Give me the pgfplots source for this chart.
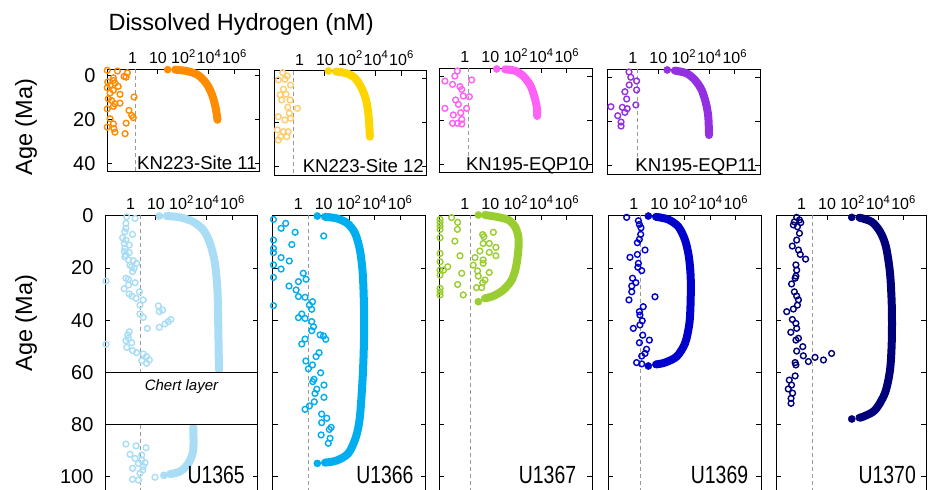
\documentclass[border=0pt]{standalone}
\usepackage{fontspec}
\setmainfont{Liberation Sans}
\usepackage{pgfplots}
\pgfplotsset{compat=1.18}
\definecolor{cA}{HTML}{FF8C00}
\definecolor{cB}{HTML}{FFD500}
\definecolor{cBo}{HTML}{FFCC6E}
\definecolor{cC}{HTML}{FF60F5}
\definecolor{cD}{HTML}{9330E0}
\definecolor{cE}{HTML}{A8DDF5}
\definecolor{cF}{HTML}{00AEEF}
\definecolor{cG}{HTML}{9ACD32}
\definecolor{cH}{HTML}{0000CD}
\definecolor{cI}{HTML}{00007A}
\tikzset{
  mydash/.style={gray!80, line width=0.8pt, dash pattern=on 4pt off 3pt},
  toplab/.style={anchor=base east, inner sep=0pt, font=\fontsize{18.6}{19}\selectfont, xshift=-3pt, yshift=2.5pt},
  botlab/.style={anchor=base east, inner sep=0pt, font=\fontsize{19.4}{20}\selectfont, yscale=1.28},
}
\pgfplotsset{
  panel/.style={
    scale only axis, width=153pt, xmin=0, xmax=6, y dir=reverse, clip=false,
    anchor=north west,
    axis line style={line width=1pt},
    tick style={line width=1pt, black},
    major tick length=5pt,
    xtick pos=right, xticklabel pos=right,
    xtick={2,3,4,5},
    xticklabels={10,10\textsuperscript{2},10\textsuperscript{4},10\textsuperscript{6}},
    extra x ticks={1}, extra x tick labels={1},
    extra x tick style={major tick length=0pt},
    xticklabel style={font=\fontsize{16}{16}\selectfont, yshift=2pt},
    yticklabel style={font=\fontsize{20}{20}\selectfont, xshift=-8pt},
    /pgf/number format/assume math mode=true,
  },
  noy/.style={yticklabels={}},
  myopen/.style={only marks, mark=o, mark size=2.9pt, mark options={line width=1.4pt}},
  mycurve/.style={line width=8pt, line cap=round, line join=round, smooth, mark=none},
  mydot/.style={only marks, mark=*, mark size=3.6pt},
}
\begin{document}
\begin{tikzpicture}
\useasboundingbox (0pt,0pt) rectangle (930pt,-490pt);
\node[anchor=base west, font=\fontsize{23.5}{24}\selectfont] at (105pt,-30pt) {Dissolved Hydrogen (nM)};
\node[rotate=90, anchor=base, font=\fontsize{23.5}{24}\selectfont] at (32pt,-127pt) {Age (Ma)};
\node[rotate=90, anchor=base, font=\fontsize{23.5}{24}\selectfont] at (32pt,-323pt) {Age (Ma)};

% ---------------- KN223-Site 11
\begin{axis}[panel, at={(107pt,-69pt)}, height=103pt, ymin=-2.9, ymax=43.9, ytick={0,20,40}]
\draw[mydash] (axis cs:1.10,-2.9) -- (axis cs:1.10,43.9);
\addplot[myopen, cA] coordinates {(0.01,-2.3) (0.41,-2.0) (0.80,-1.2) (0.67,0.5) (0.25,1.1) (0.75,0.8) (0.03,3.0) (0.25,2.3) (0.31,3.5) (0.12,4.5) (0.44,5.0) (0.01,5.6) (0.25,6.8) (0.12,8.0) (0.51,8.6) (0.05,10.6) (1.06,9.8) (0.18,11.4) (0.31,12.9) (0.51,12.6) (0.25,14.1) (0.01,15.2) (0.86,15.9) (0.12,19.7) (0.97,18.2) (1.03,19.2) (0.01,23.5) (0.25,22.0) (0.27,24.2) (0.31,25.8) (0.75,21.7) (0.71,26.5)};
\addplot[mycurve, cA] coordinates {(2.67,-2.6) (3.12,-2.0) (3.52,-0.5) (3.78,2.0) (3.97,5.0) (4.13,9.1) (4.24,13.6) (4.30,17.4) (4.33,20.2)};
\addplot[mydot, cA] coordinates {(2.38,-2.6)};
\node[toplab] at (axis cs:6,43.9) {KN223-Site 11};
\end{axis}

% ---------------- KN223-Site 12
\begin{axis}[panel, noy, at={(274pt,-70.7pt)}, height=104.3pt, ymin=-3.6, ymax=43.8, ytick={0,20,40}]
\draw[mydash] (axis cs:0.76,-3.6) -- (axis cs:0.76,43.8);
\addplot[myopen, cBo] coordinates {(0.34,-2.7) (0.52,-1.2) (0.17,0.6) (0.43,0.3) (0.65,2.9) (0.37,4.8) (0.24,7.4) (0.47,7.1) (0.63,9.7) (0.30,9.7) (0.54,13.0) (0.92,13.5) (0.17,17.3) (0.60,15.8) (0.65,18.0) (0.43,18.8) (0.13,23.3) (0.37,24.1) (0.56,24.1) (0.50,26.4) (0.17,27.9) (0.26,26.4)};
\addplot[mycurve, cB] coordinates {(2.43,-3.2) (2.85,-2.4) (3.18,-0.2) (3.44,4.4) (3.61,9.7) (3.70,15.8) (3.74,21.8) (3.76,26.4)};
\addplot[mydot, cB] coordinates {(2.13,-3.5)};
\node[toplab] at (axis cs:6,43.8) {KN223-Site 12};
\end{axis}

% ---------------- KN195-EQP10
\begin{axis}[panel, noy, at={(439.3pt,-68.3pt)}, height=104.4pt, ymin=-3.8, ymax=43.65, ytick={0,20,40}]
\draw[mydash] (axis cs:1.16,-3.8) -- (axis cs:1.16,43.65);
\addplot[myopen, cC] coordinates {(0.71,-2.6) (0.61,-0.3) (0.22,2.0) (0.52,3.5) (0.81,4.5) (0.88,5.8) (1.27,1.5) (0.94,8.8) (1.18,9.1) (0.64,10.6) (0.75,12.6) (0.22,14.4) (1.07,14.4) (0.55,17.4) (0.84,16.4) (0.88,19.4) (0.52,21.2) (0.71,21.2) (0.88,21.5)};
\addplot[mycurve, cC] coordinates {(2.58,-3.3) (2.97,-2.7) (3.29,-0.3) (3.56,3.8) (3.71,8.3) (3.82,13.6) (3.84,17.9)};
\addplot[mydot, cC] coordinates {(2.25,-3.5)};
\node[toplab] at (axis cs:6,43.65) {KN195-EQP10};
\end{axis}

% ---------------- KN195-EQP11
\begin{axis}[panel, noy, at={(607.3pt,-69.3pt)}, height=104.7pt, ymin=-3.8, ymax=43.8, ytick={0,20,40}]
\draw[mydash] (axis cs:1.19,-3.8) -- (axis cs:1.19,43.8);
\addplot[myopen, cD] coordinates {(0.85,-2.6) (0.92,-0.2) (1.15,1.5) (0.86,3.3) (1.15,5.6) (0.69,6.4) (0.76,9.7) (1.12,12.4) (0.14,13.2) (0.59,13.5) (0.78,14.1) (0.69,15.8) (0.41,17.3) (0.54,20.2) (0.54,22.0)};
\addplot[mycurve, cD] coordinates {(2.65,-3.2) (3.11,-2.0) (3.44,1.1) (3.70,5.6) (3.87,11.7) (3.96,17.7) (3.99,26.1)};
\addplot[mydot, cD] coordinates {(2.35,-3.5)};
\node[toplab] at (axis cs:6,43.8) {KN195-EQP11};
\end{axis}

% ---------------- U1365
\begin{axis}[panel, at={(105pt,-215pt)}, height=280pt, ymin=-0.3, ymax=106.9, ytick={0,20,40,60,80,100}]
\draw[mydash] (axis cs:1.37,-0.3) -- (axis cs:1.37,106.9);
\addplot[myopen, cE] coordinates {(0.85,0.4) (1.18,1.0) (0.82,2.9) (0.82,4.8) (0.78,6.1) (1.08,7.1) (0.69,8.4) (0.82,9.3) (0.76,10.6) (0.95,11.2) (0.78,12.5) (0.76,13.7) (0.95,14.1) (0.82,15.0) (0.78,15.7) (0.92,16.9) (1.11,17.2) (1.24,18.2) (0.98,18.9) (1.05,19.5) (1.14,20.1) (1.08,21.4) (0.82,23.9) (0.92,24.3) (0.04,25.0) (1.18,25.6) (0.92,26.5) (0.75,27.9) (1.35,29.1) (0.95,29.9) (1.05,30.7) (1.22,31.6) (1.50,32.2) (1.37,34.2) (2.09,34.5) (2.26,36.1) (2.13,36.7) (1.37,37.6) (1.50,38.9) (2.58,39.7) (2.48,40.5) (2.35,41.4) (2.13,42.7) (1.66,43.1) (0.95,44.4) (0.89,45.6) (0.92,46.9) (0.82,47.8) (1.05,48.6) (0.04,49.2) (0.85,50.4) (1.08,51.6) (1.24,52.4) (1.50,52.9) (1.63,53.9) (1.74,55.2) (1.44,55.5) (1.63,56.5)
 (0.82,87.4) (1.22,88.1) (1.61,88.8) (0.98,91.3) (1.44,91.6) (1.18,92.9) (1.44,93.5) (1.57,94.5) (1.31,94.8) (1.08,96.7) (1.50,96.0) (1.48,97.3) (1.37,98.6) (1.08,100.9) (1.31,101.2) (1.96,100.1)};
\addplot[mycurve, cE] coordinates {(2.42,0.1) (2.94,0.6) (3.46,2.3) (3.86,5.5) (4.12,10.6) (4.31,18.2) (4.41,28.4) (4.44,41.2) (4.47,59.0)};
\addplot[mycurve, cE] coordinates {(3.46,81.0) (3.46,89.7) (3.27,94.8) (2.94,97.9) (2.55,98.9)};
\addplot[mydot, cE] coordinates {(2.13,0.1) (2.31,99.4)};
\draw[fill=white, line width=1pt] (axis cs:0,60) rectangle (axis cs:6,80);
\node[font=\fontsize{15}{15}\selectfont\itshape] at (axis cs:3,65.3) {Chert layer};
\node[botlab, xshift=-13pt] at (axis cs:6,102.4) {U1365};
\end{axis}

% ---------------- U1366
\begin{axis}[panel, noy, at={(272.7pt,-215pt)}, height=280pt, ymin=-0.3, ymax=106.9, ytick={0,20,40,60,80,100}]
\draw[mydash] (axis cs:1.40,-0.3) -- (axis cs:1.40,106.9);
\addplot[myopen, cF] coordinates {(0.03,1.4) (0.33,4.8) (0.51,2.9) (0.88,6.3) (0.03,9.3) (0.75,11.0) (2.00,7.7) (0.03,12.5) (0.03,14.1) (0.33,16.0) (0.65,17.3) (0.03,18.8) (0.33,20.4) (1.20,22.0) (1.01,25.2) (0.03,23.6) (1.31,24.3) (0.64,26.9) (0.92,28.4) (1.01,30.9) (1.27,31.2) (1.56,32.9) (1.44,34.2) (0.03,34.4) (1.53,35.8) (1.14,37.6) (1.01,39.0) (1.27,39.3) (1.53,40.5) (1.60,42.5) (1.53,44.0) (1.86,45.6) (1.99,46.0) (1.27,47.2) (2.08,47.3) (1.14,49.1) (1.82,52.4) (1.70,53.9) (1.30,55.6) (1.56,57.1) (1.40,58.6) (1.88,60.1) (1.62,62.6) (1.57,63.5) (2.01,64.8) (1.73,66.4) (1.66,68.0) (2.01,69.5) (1.63,71.2) (1.44,72.8) (1.27,74.1) (1.92,75.9) (2.12,77.5) (1.92,79.2) (2.29,81.0) (2.22,81.8) (1.90,83.9) (2.25,85.2) (2.18,87.1)};
\addplot[mycurve, cF] coordinates {(2.05,0.4) (2.51,1.0) (2.93,2.9) (3.23,6.7) (3.42,13.1) (3.53,22.0) (3.58,34.8) (3.58,47.6) (3.53,61.6) (3.42,76.9) (3.27,84.5) (2.97,90.9) (2.51,93.7) (2.05,94.5)};
\addplot[mydot, cF] coordinates {(1.75,0.1) (1.75,94.8)};
\node[botlab, xshift=-12pt] at (axis cs:6,102.4) {U1366};
\end{axis}

% ---------------- U1367
\begin{axis}[panel, noy, at={(439.3pt,-215pt)}, height=280pt, ymin=-0.3, ymax=106.9, ytick={0,20,40,60,80,100}]
\draw[mydash] (axis cs:1.23,-0.3) -- (axis cs:1.23,106.9);
\addplot[myopen, cG] coordinates {(0.03,1.4) (0.03,2.6) (0.03,3.9) (0.03,5.2) (0.03,8.4) (0.03,14.4) (0.03,17.6) (0.03,20.8) (0.03,22.7) (0.03,27.8) (0.03,29.1) (0.03,30.3) (0.48,0.7) (0.72,2.5) (0.71,5.2) (0.61,9.7) (0.81,15.3) (0.33,19.5) (0.88,22.0) (0.72,26.3) (0.94,30.3) (0.16,20.8) (1.70,7.2) (1.75,8.0) (2.12,6.3) (1.72,10.6) (1.96,10.6) (1.59,13.5) (2.22,12.1) (1.96,14.0) (2.22,15.3) (1.40,16.0) (1.72,16.9) (1.72,18.2) (1.33,18.9) (1.50,21.1) (1.96,21.7) (1.53,23.1) (1.79,24.6) (1.70,25.6) (1.46,27.5) (1.66,27.5)};
\addplot[mycurve, cG] coordinates {(1.79,-0.3) (2.25,0.4) (2.71,1.6) (2.97,4.2) (3.10,8.0) (3.10,13.1) (3.01,19.5) (2.84,24.6) (2.51,28.4) (2.12,30.7) (1.79,31.6)};
\addplot[mydot, cG] coordinates {(1.53,-0.3) (1.53,32.9)};
\node[botlab, xshift=-16pt] at (axis cs:6,102.4) {U1367};
\end{axis}

% ---------------- U1369
\begin{axis}[panel, noy, at={(608.3pt,-215pt)}, height=280pt, ymin=-0.3, ymax=106.9, ytick={0,20,40,60,80,100}]
\draw[mydash] (axis cs:1.27,-0.3) -- (axis cs:1.27,106.9);
\addplot[myopen, cH] coordinates {(0.72,0.6) (1.18,1.9) (1.22,3.3) (1.28,4.6) (1.27,7.1) (1.22,9.0) (1.14,10.3) (1.44,13.1) (1.14,14.8) (0.85,15.9) (1.18,18.2) (1.16,19.7) (1.31,21.0) (0.95,23.9) (1.08,25.6) (0.92,26.9) (0.92,29.1) (0.81,32.2) (1.83,31.0) (1.37,34.8) (1.22,36.7) (1.24,38.0) (1.33,40.2) (1.24,41.8) (0.98,43.1) (1.35,45.7) (1.61,47.6) (1.22,48.6) (1.50,51.1) (1.44,52.7) (1.31,53.7) (1.11,56.2) (1.31,56.7)};
\addplot[mycurve, cH] coordinates {(1.87,0.4) (2.35,1.4) (2.75,4.2) (3.01,9.3) (3.16,15.7) (3.23,23.3) (3.23,32.3) (3.18,41.2) (3.01,48.8) (2.68,53.9) (2.22,56.2) (1.87,56.9)};
\addplot[mydot, cH] coordinates {(1.57,0.1) (1.57,57.5)};
\node[botlab, xshift=-13pt] at (axis cs:6,102.4) {U1369};
\end{axis}

% ---------------- U1370
\begin{axis}[panel, noy, at={(776pt,-215pt)}, width=150pt, xmax=5.88, height=280pt, ymin=-0.3, ymax=106.9, ytick={0,20,40,60,80,100}]
\draw[mydash] (axis cs:1.42,-0.3) -- (axis cs:1.42,106.9);
\addplot[myopen, cI] coordinates {(0.81,0.6) (0.92,1.6) (0.72,2.3) (0.97,2.6) (0.68,3.5) (0.84,4.2) (0.92,6.7) (0.81,9.3) (0.64,11.6) (0.88,13.1) (0.95,14.8) (1.16,16.6) (0.78,18.8) (0.81,20.8) (0.78,23.1) (0.75,23.9) (0.61,26.1) (0.72,29.1) (0.81,30.7) (0.88,32.2) (0.84,34.2) (0.68,35.7) (0.42,36.7) (0.64,39.7) (0.78,41.2) (0.81,43.1) (0.58,44.6) (0.88,46.9) (0.78,47.6) (1.05,50.1) (0.81,51.8) (1.07,53.6) (1.53,54.2) (1.86,55.2) (2.18,52.7) (1.27,55.8) (0.75,56.2) (0.78,57.1) (0.75,61.3) (0.52,62.9) (0.48,66.3) (0.61,64.8) (0.65,67.9) (0.59,69.9) (0.59,71.8)};
\addplot[mycurve, cI] coordinates {(3.27,0.7) (3.75,2.3) (4.08,6.1) (4.31,11.8) (4.47,22.0) (4.54,34.8) (4.54,47.6) (4.47,59.0) (4.27,67.9) (3.88,74.4) (3.42,76.9) (3.27,77.3)};
\addplot[mydot, cI] coordinates {(2.97,0.6) (2.97,77.8)};
\node[botlab, xshift=-10pt] at (axis cs:5.88,102.4) {U1370};
\end{axis}
\end{tikzpicture}
\end{document}
